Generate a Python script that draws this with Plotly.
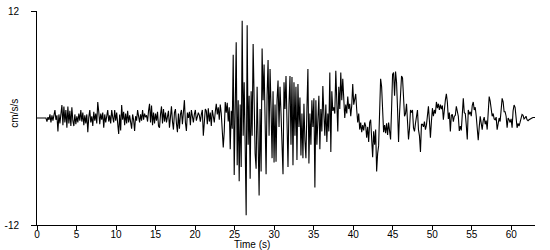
import numpy as np
import plotly.graph_objects as go

# Sample spacing of the digitised record (seconds)
DT = 0.126

# Acceleration values (cm/s/s)
accel_cm_s2 = [
    0, 0, 0, 0, 0, 0, 0, 0, 0.05, 0.0,
    -0.4, 0.1, -0.2, 0.4, -0.5, 0.3, -0.3, 0.6, 0.9, -0.2,
    0.3, -1.5, 0.4, -0.6, 0.5, 1.45, -0.8, 1.3, -0.5, 0.9,
    -1.1, 1.3, -0.6, 0.8, -0.9, 1.2, -0.3, -0.9, 0.4, -0.7,
    0.2, -0.5, 0.5, -0.3, 0.9, -0.4, 0.6, -0.8, 0.3, -0.6,
    0.4, -1.6, 0.1, 0.9, -0.5, 0.2, -0.9, 0.7, -0.3, 0.5,
    -0.6, 1.8, 0.7, -0.7, 0.5, -0.2, 0.6, -1.1, 0.4, -0.5,
    0.2, 0.9, -0.4, 0.3, -0.6, 0.9, 0.1, -0.5, 0.9, -0.3,
    0.6, -0.9, -1.8, 0.4, -1.4, 1.45, -0.2, 0.7, -0.8, 0.5,
    -0.6, 0.8, -0.5, 0.3, -0.7, -1.2, 0.4, -0.2, -1.45, 0.2,
    -0.3, 0.9, 0.2, -0.5, 0.4, -0.3, 0.9, -0.2, 0.5, 0.1,
    0.3, -0.4, 0.8, 1.6, -0.5, 1.4, -0.8, 0.6, -0.6, 0.5,
    -0.3, 0.7, -0.9, -1.1, 0.4, 1.3, -0.6, 1.0, -0.4, 0.6,
    -0.5, 0.3, 0.8, -1.1, 0.2, 1.3, -0.4, -1.3, 0.6, 1.0,
    -0.6, -1.6, 0.5, -1.2, 0.4, 0.9, -0.7, 0.6, 2.0, -0.5,
    -1.45, 0.6, 0.0, 0.7, -0.8, 0.9, 0.2, -0.5, 0.4, 0.9,
    -0.3, 0.2, 0.6, 0.3, -0.4, 0.4, 0.9, -2.0, 0.3, 1.0,
    0.8, -0.7, 1.1, -0.4, 0.6, -0.9, 0.9, 0.2, -0.5, 0.7,
    1.6, 0.4, 1.2, -0.2, 1.5, 0.5, -2.2, -3.3, -1.5, 1.8,
    0.6, 1.7, -0.4, 1.2, -3.5, 0.8, -1.2, 7.1, -6.4, 2.5,
    8.5, -5.3, 2.0, -7.1, 1.5, -5.5, 10.9, -2.0, 4.0, -3.0,
    -10.9, 10.4, -3.0, 2.5, -6.8, 3.0, -2.0, 8.3, 1.0, -4.0,
    -5.7, 3.5, -2.5, -8.7, 1.0, -6.0, 7.8, 2.0, 6.0, -3.0,
    -6.3, 2.5, 6.5, -2.0, 5.5, 1.0, -4.5, 3.0, -5.0, 1.5,
    -4.9, 2.0, 4.2, -1.0, 3.5, 0.5, -3.0, -6.3, 4.0, 1.0,
    4.7, -2.0, -5.5, 1.5, 4.7, -3.0, 4.6, -5.3, 4.0, -2.0,
    3.5, -4.7, 3.8, -1.0, 2.3, -4.2, 0.5, -4.5, 1.6, -2.5,
    -4.5, 1.0, 5.5, -5.1, 0.5, -3.0, 2.0, -1.0, 2.2, -7.8,
    2.0, -3.0, -0.5, 2.5, -3.5, 1.0, -1.5, 3.6, 0.5, -2.0,
    1.5, -2.7, 0.5, -1.5, 5.1, -3.8, 3.0, 0.8, 1.2, 0.5,
    5.3, 2.0, -1.5, 3.5, 1.0, 5.1, 2.0, 4.4, 2.0, 0.0,
    1.5, 0.5, 2.4, 1.0, 1.6, 0.2, 1.4, 3.8, 1.5, 2.0,
    2.7, 0.9, -0.5, 0.5, -1.3, -0.5, -1.6, -0.8, -1.4, -0.5,
    -0.9, -2.2, -1.0, -2.7, -0.5, -0.2, -2.0, -4.4, -1.5, -3.0,
    -1.3, -6.0, -4.0, -3.1, 0.7, 4.4, 3.5, -0.5, -1.6, -0.8,
    -1.7, -0.6, -1.9, -0.5, -1.2, -2.4, 1.0, 4.9, 5.1, 2.5,
    5.2, 4.0, 1.0, -2.7, 0.5, 3.5, 4.7, 4.5, 1.4, 0.2,
    0.5, 1.6, -0.4, -2.4, -1.2, 0.9, 0.6, 0.9, -1.1, -1.5,
    -0.6, 0.3, 0.9, -1.3, -2.0, -3.8, -0.7, -0.7, -1.0, -0.4,
    -1.3, -0.8, 0.2, 1.3, -0.3, -2.2, -0.4, 1.1, 0.2, 0.9,
    0.5, 1.8, 1.1, 1.6, 0.9, 1.5, 1.0, 1.4, -0.2, 1.2,
    2.0, 2.7, 1.8, -0.1, 0.6, -1.5, 0.3, 0.4, -0.4, 0.2,
    0.3, 1.3, 0.5, 0.2, -1.45, -0.9, -1.4, 0.0, 2.2, 0.6,
    0.5, -0.8, -2.4, 0.9, 0.4, 0.7, 0.2, 1.4, 1.8, 0.9,
    1.2, 0.2, -0.8, -2.5, -1.0, 0.2, -0.6, -1.3, -0.3, 0.1,
    -0.7, -0.3, -1.3, 0.5, 2.4, 1.9, 0.8, 0.2, 0.5, -0.1,
    -0.2, 0.1, -1.3, -0.6, 0.0, -0.4, 0.8, 2.2, 1.8, 0.7,
    0.7, 0.2, -1.1, 0.0, -0.2, -0.5, -0.1, -1.1, 0.8, 1.45,
    1.2, 0.3, -1.1, -0.6, -0.9, -0.5, 0.1, 0.4, 0.3, -0.1,
    0.0, 0.2, -0.2, -0.3, -0.2, -0.1, 0.0, 0.0, 0.05, 0.05,
    0.05,
]

time_s = np.arange(len(accel_cm_s2)) * DT

x_ticks = [0, 5, 10, 15, 20, 25, 30, 35, 40, 45, 50, 55, 60]
y_ticks = [-12, 12]

FONT = "Liberation Sans, Arial, sans-serif"

fig = go.Figure()
fig.add_trace(go.Scatter(
    x=time_s, y=accel_cm_s2, mode="lines",
    line=dict(color="black", width=1.1),
    hoverinfo="skip", showlegend=False,
))

fig.update_layout(
    width=550, height=250,
    margin=dict(l=35, r=15, t=5, b=25),
    paper_bgcolor="white", plot_bgcolor="white",
    font=dict(family=FONT, size=10, color="black"),
    xaxis=dict(
        range=[0, 63], tickvals=x_ticks, ticktext=[str(v) for v in x_ticks],
        showline=True, linecolor="black", linewidth=1,
        ticks="outside", ticklen=4, tickcolor="black", tickwidth=1,
        ticklabelstandoff=-4,
        showgrid=False, zeroline=False,
        tickfont=dict(family=FONT, size=10, color="black"),
    ),
    yaxis=dict(
        range=[-12, 12], tickvals=y_ticks, ticktext=[str(v) for v in y_ticks],
        showline=True, linecolor="black", linewidth=1,
        ticks="outside", ticklen=5, tickcolor="black", tickwidth=1,
        ticklabelstandoff=10, ticklabeloverflow="allow",
        showgrid=False, zeroline=False,
        tickfont=dict(family=FONT, size=10, color="black"),
    ),
    annotations=[
        dict(text="Time (s)", xref="paper", yref="paper",
             x=(251 - 35) / 500, y=(225 - 252) / 220,
             xanchor="center", yanchor="bottom", showarrow=False,
             borderpad=0,
             font=dict(family=FONT, size=10, color="black")),
        dict(text="cm/s/s", xref="paper", yref="paper",
             x=(12.5 - 35) / 500, y=(225 - 110) / 220,
             xanchor="center", yanchor="middle", textangle=-90, showarrow=False,
             font=dict(family=FONT, size=10, color="black")),
    ],
)

fig.write_html("out.html")
